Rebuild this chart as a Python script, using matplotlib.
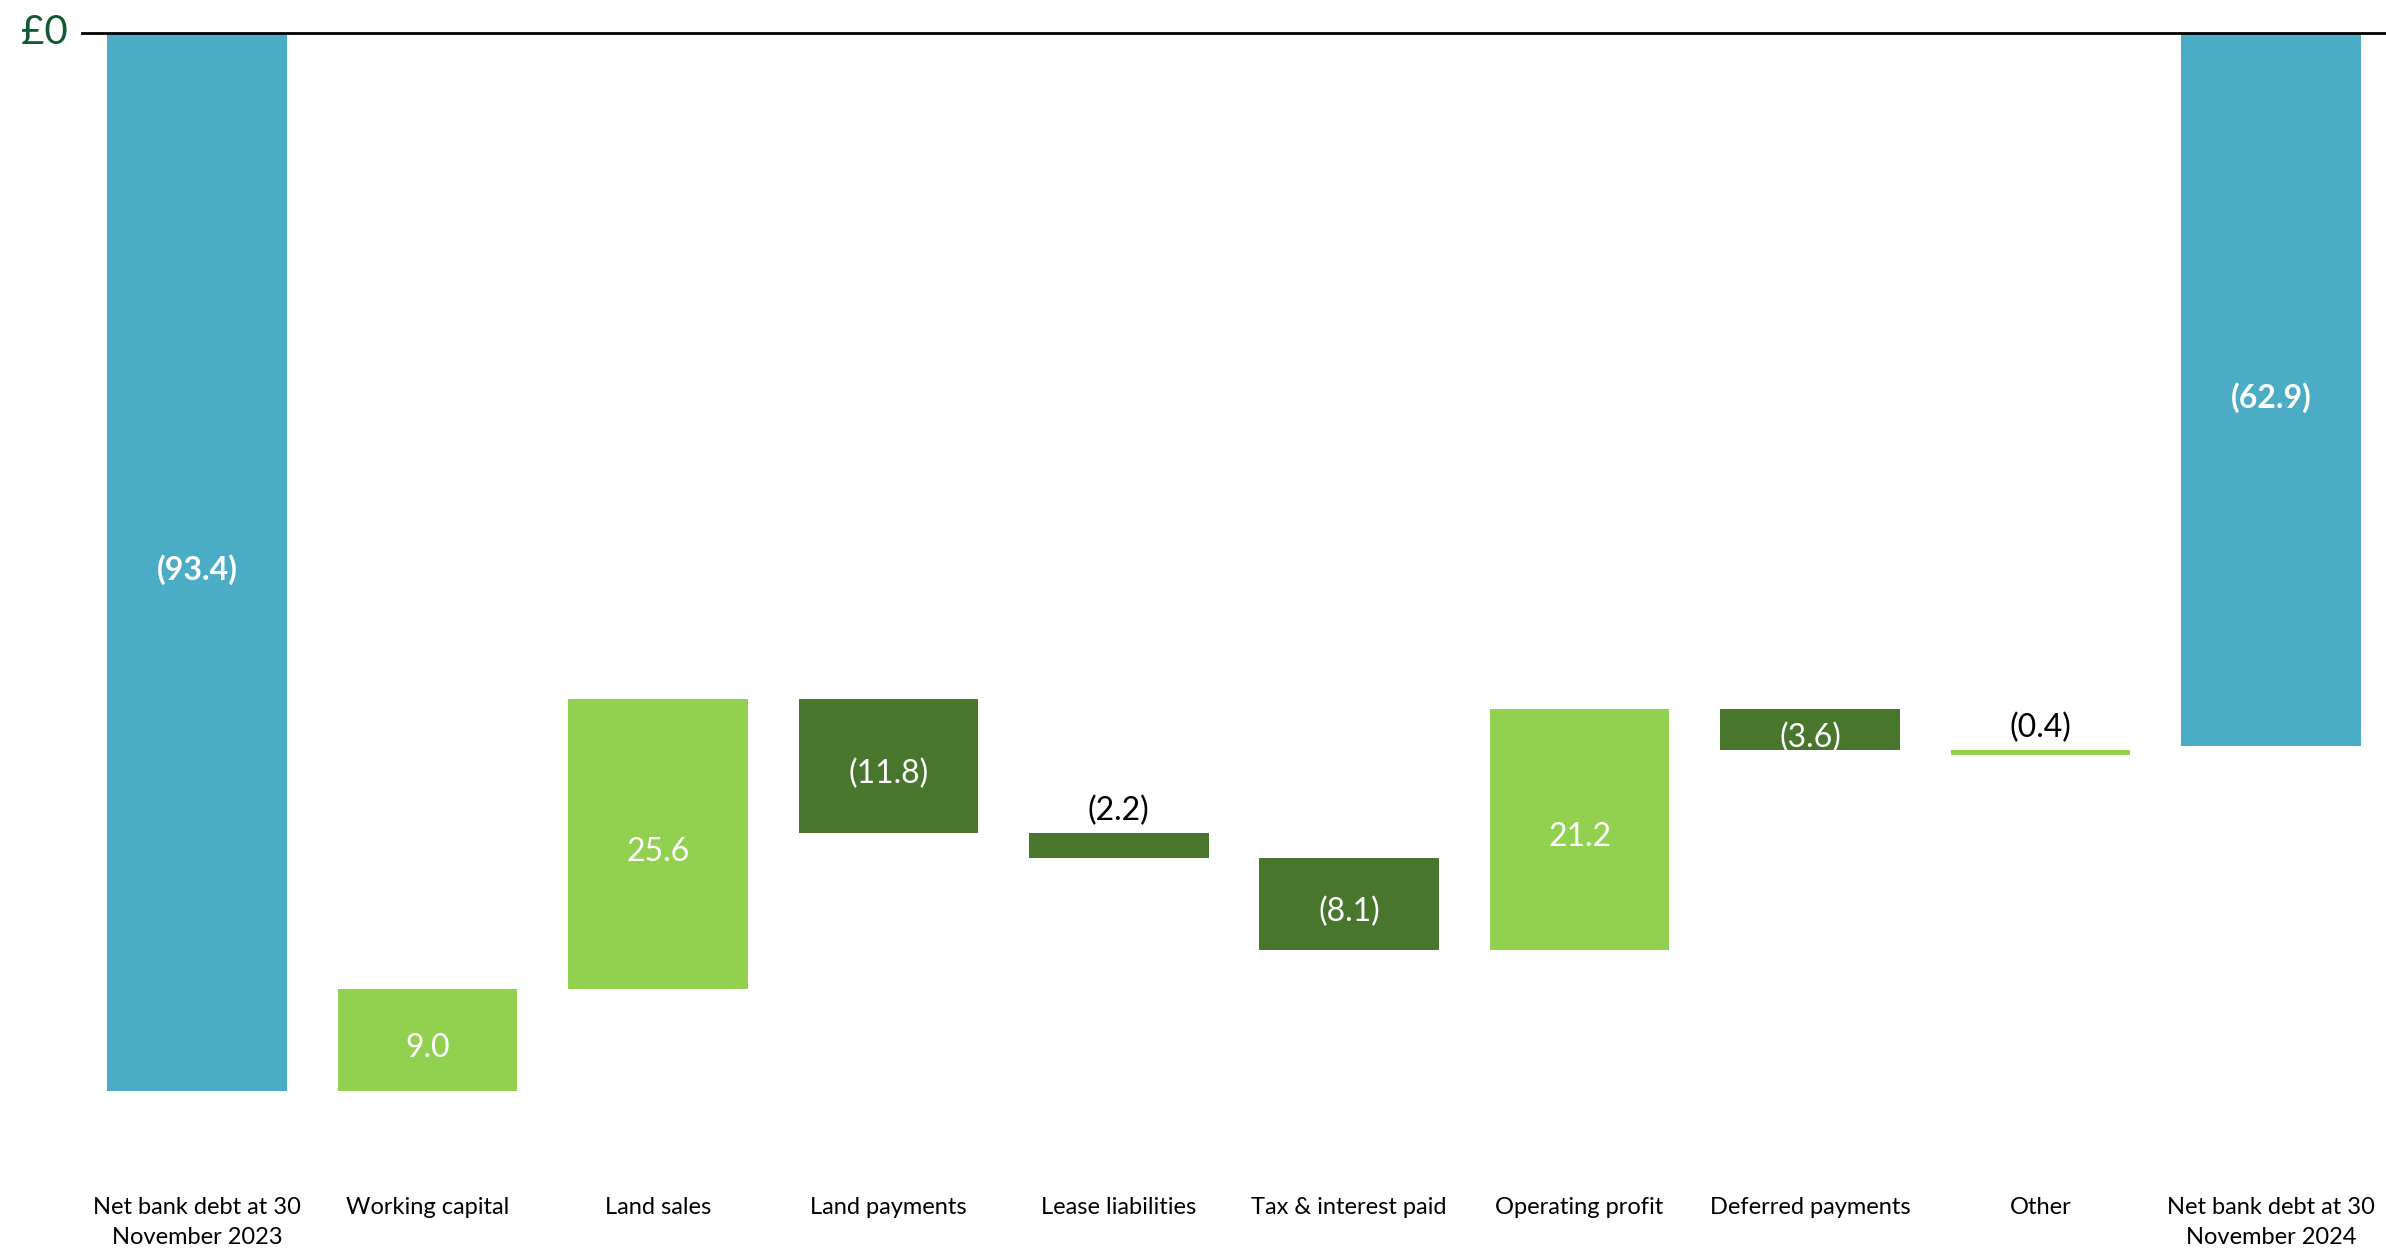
import numpy as np
import matplotlib.pyplot as plt

# bridge data, £m
categories = ['Net bank debt at 30\nNovember 2023', 'Working capital', 'Land sales',
              'Land payments', 'Lease liabilities', 'Tax & interest paid',
              'Operating profit', 'Deferred payments', 'Other',
              'Net bank debt at 30\nNovember 2024']
opening = -93.4
steps = [9.0, 25.6, -11.8, -2.2, -8.1, 21.2, -3.6, -0.4]
closing = -62.9
labels = ['(93.4)', '9.0', '25.6', '(11.8)', '(2.2)', '(8.1)', '21.2', '(3.6)', '(0.4)', '(62.9)']

blue = '#4BACC6'
light = '#92D050'
dark = '#48762D'
colors = [blue, light, light, dark, dark, dark, light, dark, light, blue]
label_pos = ['in', 'in', 'in', 'in', 'above', 'in', 'in', 'in', 'above', 'in']

plt.rcParams['font.family'] = ['Lato', 'DejaVu Sans']

# bottoms / heights for the floating bars
levels = np.concatenate([[opening], opening + np.cumsum(steps)])
bottoms = [opening] + [min(levels[i], levels[i + 1]) for i in range(len(steps))] + [closing]
heights = [-opening] + [abs(s) for s in steps] + [-closing]

fig = plt.figure(figsize=(23.86, 12.53), dpi=100)
ax = fig.add_axes([82 / 2386, 1 - 1166 / 1253, 1 - 82 / 2386, 1133 / 1253])

x = np.arange(len(categories))
ax.bar(x, heights, bottom=bottoms, width=0.78, color=colors)

for i in range(len(x)):
    if label_pos[i] == 'above':
        ax.text(x[i], bottoms[i] + heights[i] + 0.6, labels[i], ha='center', va='bottom',
                fontsize=23, color='black')
    else:
        bold = colors[i] == blue
        ax.text(x[i], bottoms[i] + heights[i] / 2 - 0.7, labels[i], ha='center', va='center',
                fontsize=23, color='white', fontweight='bold' if bold else 'normal')

ax.axhline(0, color='black', lw=2, clip_on=False)
ax.text(-0.5 - 0.06, 0, '£0', ha='right', va='center', fontsize=29, color='#0E5C2F')

ax.set_xlim(-0.5, 9.5)
ax.set_ylim(-100, 0)
ax.set_xticks(x)
ax.set_xticklabels(categories, fontsize=17, linespacing=1.55)
ax.tick_params(axis='x', length=0, pad=22)
ax.set_yticks([])
for s in ax.spines.values():
    s.set_visible(False)

fig.savefig('out.png', dpi=100)
